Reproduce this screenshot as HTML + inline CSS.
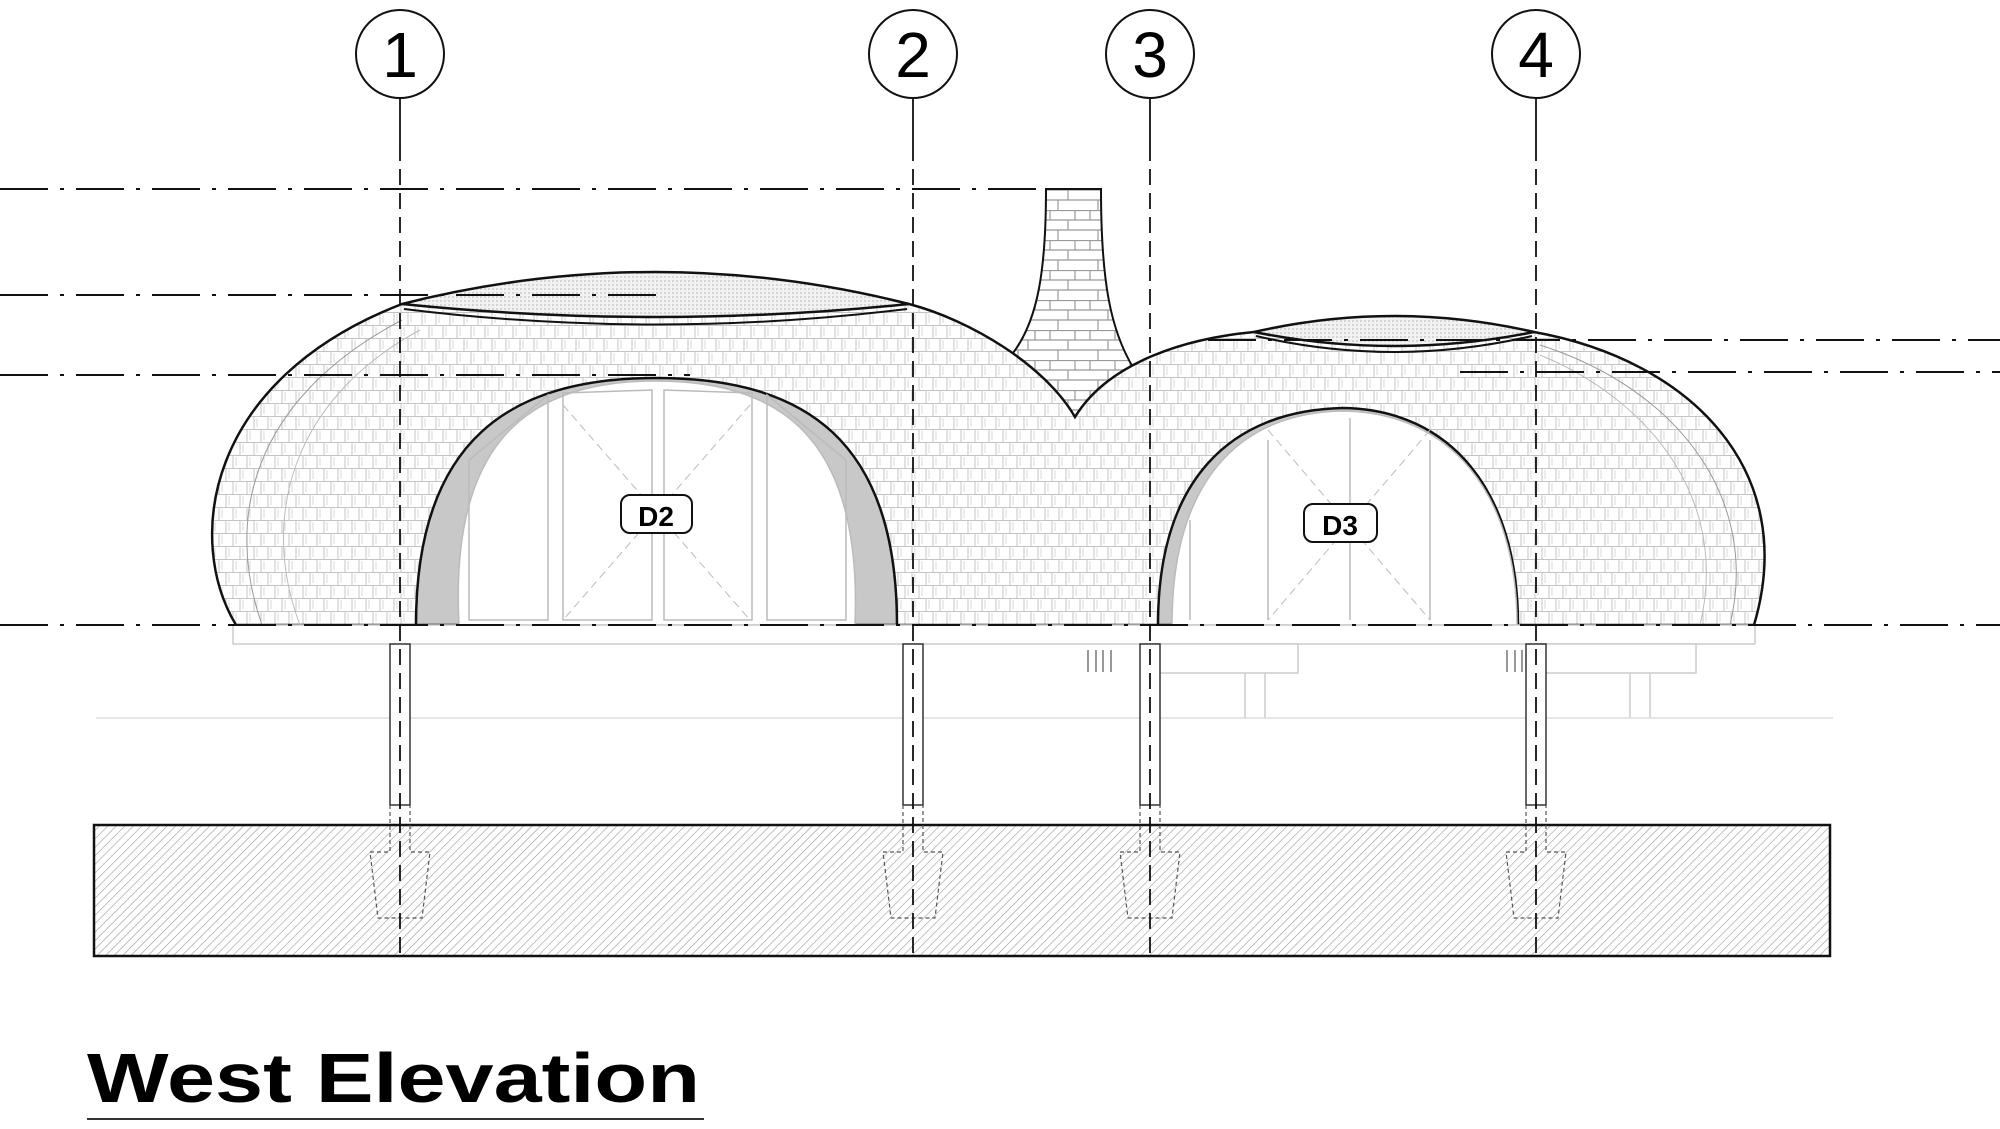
<!DOCTYPE html>
<html><head><meta charset="utf-8"><style>html,body{margin:0;padding:0;background:#fff}svg{display:block}</style></head>
<body>
<svg width="2000" height="1129" viewBox="0 0 2000 1129" xmlns="http://www.w3.org/2000/svg">
<defs>
<pattern id="brick" width="14" height="26" patternUnits="userSpaceOnUse">
<rect width="14" height="26" fill="#fff"/>
<path d="M0 0.5H14M2 0V13M9 13V26M0 13.5H14" stroke="#c4c4c4" stroke-width="1" fill="none"/>
<path d="M5 2V11M12 15V24" stroke="#d8d8d8" stroke-width="1"/>
</pattern>
<pattern id="stone" width="40" height="30" patternUnits="userSpaceOnUse">
<rect width="40" height="30" fill="#fff"/>
<path d="M0 0.5H40M0 10H40M0 20H40M10 0V10M28 10V20M18 20V30M35 0V10" stroke="#999" stroke-width="1.2" fill="none"/>
</pattern>
<pattern id="hatch" width="6" height="6" patternUnits="userSpaceOnUse" patternTransform="rotate(45)">
<rect width="6" height="6" fill="#fff"/>
<line x1="0" y1="0" x2="0" y2="6" stroke="#9a9a9a" stroke-width="1.2"/>
</pattern>
<pattern id="dots" width="4" height="4" patternUnits="userSpaceOnUse">
<rect width="4" height="4" fill="#f2f2f2"/><circle cx="1" cy="1" r="0.7" fill="#aaa"/>
</pattern>
</defs>

<!-- chimney -->
<path d="M1046 189 L1101 189 C1101 280 1110 330 1134 369 L1075 417 L1013 353 C1038 320 1046 270 1046 189 Z" fill="url(#stone)" stroke="#111" stroke-width="2"/>

<!-- domes -->
<path d="M236 625 C185 540 205 380 402 304 L909 304 C970 320 1045 365 1075 417 C1110 360 1190 338 1254 332 L1534 332 C1690 360 1800 470 1754 625 Z" fill="url(#brick)" stroke="#111" stroke-width="2.5"/>
<path d="M262 625 C225 520 250 400 402 320" fill="none" stroke="#999" stroke-width="1"/>
<path d="M300 625 C260 520 290 400 420 330" fill="none" stroke="#bbb" stroke-width="1"/>
<path d="M1730 625 C1760 500 1680 390 1540 345" fill="none" stroke="#999" stroke-width="1"/>
<path d="M1700 625 C1730 500 1650 400 1540 355" fill="none" stroke="#bbb" stroke-width="1"/>

<!-- caps -->
<path d="M402 304 Q655 240 909 304 Q655 330 402 304 Z" fill="url(#dots)" stroke="#111" stroke-width="2.5"/>
<path d="M404 309 Q655 340 907 309" fill="none" stroke="#111" stroke-width="2"/>
<path d="M1254 332 Q1394 300 1534 332 Q1394 360 1254 332 Z" fill="url(#dots)" stroke="#111" stroke-width="2.5"/>
<path d="M1256 336 Q1394 368 1532 336" fill="none" stroke="#111" stroke-width="2"/>

<!-- door D2 -->
<path d="M416 625 C416 440 510 378 656 378 C805 378 897 440 897 625 Z" fill="#c8c8c8" stroke="#111" stroke-width="2.5"/>
<path d="M459 625 C450 450 520 381 656 381 C792 381 862 450 855 625 Z" fill="#fff" stroke="#bbb" stroke-width="1.5"/>
<path d="M469 620 V460 L548 395 V620 Z M563 620 V393 L652 390 V620 Z M664 620 V390 L752 393 V620 Z M767 620 V395 L846 460 V620 Z" fill="none" stroke="#bbb" stroke-width="1.5"/>
<path d="M563 405 L750 620 M750 405 L563 620" stroke="#bbb" stroke-width="1" stroke-dasharray="8 5"/>
<rect x="621" y="495" width="71" height="38" rx="9" fill="#fff" stroke="#111" stroke-width="2"/>
<text x="656" y="526" font-family="Liberation Sans, sans-serif" font-weight="bold" font-size="28" text-anchor="middle">D2</text>

<!-- door D3 -->
<path d="M1158 625 C1158 480 1230 410 1344 408 C1450 410 1518 490 1518 625 Z" fill="#c8c8c8" stroke="#111" stroke-width="2.5"/>
<path d="M1172 625 C1172 485 1236 412 1344 411 C1450 413 1517 492 1517 625 Z" fill="#fff" stroke="#bbb" stroke-width="1.5"/>
<path d="M1268 620 V440 M1350 620 V418 M1430 620 V440 M1190 620 V520" fill="none" stroke="#bbb" stroke-width="1.5"/>
<path d="M1268 430 L1430 620 M1430 430 L1268 620" stroke="#bbb" stroke-width="1" stroke-dasharray="8 5"/>
<rect x="1304" y="504" width="73" height="38" rx="9" fill="#fff" stroke="#111" stroke-width="2"/>
<text x="1340" y="535" font-family="Liberation Sans, sans-serif" font-weight="bold" font-size="28" text-anchor="middle">D3</text>

<!-- platform -->
<rect x="233" y="625" width="1522" height="19" fill="#fff" stroke="#ccc" stroke-width="1.5"/>
<rect x="1150" y="644" width="148" height="29" fill="#fff" stroke="#ccc" stroke-width="1.5"/>
<rect x="1536" y="644" width="160" height="29" fill="#fff" stroke="#ccc" stroke-width="1.5"/>
<path d="M1245 673 V718 M1265 673 V718 M1630 673 V718 M1650 673 V718" stroke="#ccc" stroke-width="1.5"/>
<line x1="96" y1="718" x2="1833" y2="718" stroke="#ddd" stroke-width="1.5"/>
<path d="M1088 650 V672 M1096 650 V672 M1103 650 V672 M1111 650 V672 M1507 650 V672 M1515 650 V672 M1522 650 V672 M1530 650 V672" stroke="#555" stroke-width="1.2"/>

<!-- ground -->
<rect x="94" y="825" width="1736" height="131" fill="url(#hatch)" stroke="#111" stroke-width="2.5"/>

<!-- posts and footings -->
<g fill="none" stroke="#333" stroke-width="1.5">
<rect x="390" y="644" width="20" height="161" fill="#fff"/>
<rect x="903" y="644" width="20" height="161" fill="#fff"/>
<rect x="1140" y="644" width="20" height="161" fill="#fff"/>
<rect x="1526" y="644" width="20" height="161" fill="#fff"/>
</g>
<g fill="none" stroke="#555" stroke-width="1.2" stroke-dasharray="4 3">
<path d="M390 805 V852 H370 L378 918 H422 L430 852 H410 V805"/>
<path d="M903 805 V852 H883 L891 918 H935 L943 852 H923 V805"/>
<path d="M1140 805 V852 H1120 L1128 918 H1172 L1180 852 H1160 V805"/>
<path d="M1526 805 V852 H1506 L1514 918 H1558 L1566 852 H1546 V805"/>
</g>

<!-- level lines -->
<g stroke="#111" stroke-width="2" fill="none" stroke-dasharray="48 12 4 12">
<line x1="0" y1="189" x2="1046" y2="189"/>
<line x1="0" y1="295" x2="660" y2="295"/>
<line x1="0" y1="375" x2="690" y2="375"/>
<line x1="0" y1="625" x2="2000" y2="625"/>
<line x1="1208" y1="340" x2="2000" y2="340"/>
<line x1="1460" y1="372" x2="2000" y2="372"/>
</g>

<!-- grid lines -->
<g stroke="#111" stroke-width="1.8" fill="none">
<line x1="400" y1="99" x2="400" y2="145"/><line x1="913" y1="99" x2="913" y2="145"/>
<line x1="1150" y1="99" x2="1150" y2="145"/><line x1="1536" y1="99" x2="1536" y2="145"/>
<g stroke-dasharray="16 8">
<line x1="400" y1="145" x2="400" y2="956"/><line x1="913" y1="145" x2="913" y2="956"/>
<line x1="1150" y1="145" x2="1150" y2="956"/><line x1="1536" y1="145" x2="1536" y2="956"/>
</g>
</g>
<g fill="#fff" stroke="#111" stroke-width="2">
<ellipse cx="400" cy="54" rx="44" ry="44"/><ellipse cx="913" cy="54" rx="44" ry="44"/>
<ellipse cx="1150" cy="54" rx="44" ry="44"/><ellipse cx="1536" cy="54" rx="44" ry="44"/>
</g>
<g font-family="Liberation Sans, sans-serif" font-size="64" text-anchor="middle" fill="#000">
<text x="400" y="77">1</text><text x="913" y="77">2</text><text x="1150" y="77">3</text><text x="1536" y="77">4</text>
</g>

<!-- title -->
<text x="87" y="1102" font-family="Liberation Sans, sans-serif" font-weight="bold" font-size="70" textLength="613" lengthAdjust="spacingAndGlyphs">West Elevation</text>
<line x1="87" y1="1119" x2="704" y2="1119" stroke="#333" stroke-width="2"/>
</svg>
</body></html>
